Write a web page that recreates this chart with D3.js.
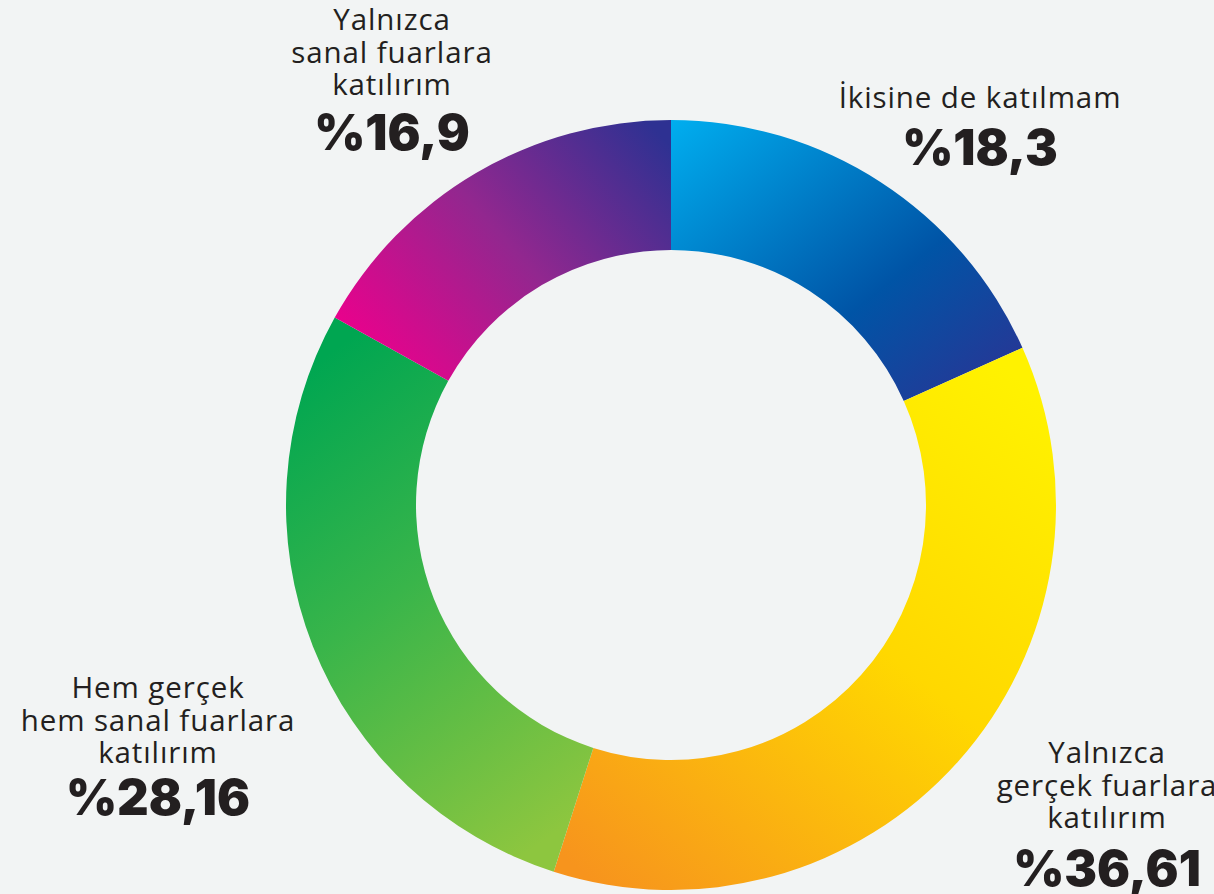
<!DOCTYPE html>
<html>
<head>
<meta charset="utf-8">
<script src="https://cdn.jsdelivr.net/npm/d3@7"></script>
<style>
  html, body { margin: 0; padding: 0; background: #f2f4f4; }
  svg { display: block; }
</style>
</head>
<body>
<script>
// data
var labels = ["İkisine de katılmam", "Yalnızca gerçek fuarlara katılırım", "Hem gerçek hem sanal fuarlara katılırım", "Yalnızca sanal fuarlara katılırım"];
var values = [18.3, 36.61, 28.16, 16.9];
var valueText = ["%18,3", "%36,61", "%28,16", "%16,9"];
var labelLines = [
  ["İkisine de katılmam"],
  ["Yalnızca", "gerçek fuarlara", "katılırım"],
  ["Hem gerçek", "hem sanal fuarlara", "katılırım"],
  ["Yalnızca", "sanal fuarlara", "katılırım"]
];

var w = 1214, h = 894;
var cx = 671, cy = 505;
var outerR = 385, innerR = 255;

// gradient per slice: direction + stops
var grads = [
  { x1: 0, y1: 0, x2: 1, y2: 1, stops: [[0, "#00aeef"], [0.6, "#0054a6"], [1, "#2e3192"]] },
  { x1: 0.85, y1: 0, x2: 0.1, y2: 1, stops: [[0, "#fff200"], [0.45, "#ffd800"], [1, "#f7941d"]] },
  { x1: 0.3, y1: 0, x2: 0.7, y2: 1, stops: [[0, "#00a651"], [0.45, "#39b54a"], [1, "#8dc63f"]] },
  { x1: 0, y1: 0.8, x2: 1, y2: 0.1, stops: [[0, "#ec008c"], [0.5, "#92278f"], [1, "#2e3192"]] }
];

var svg = d3.select("body")
            .append("svg")
            .attr("width", w)
            .attr("height", h);

var defs = svg.append("defs");
grads.forEach(function(g, i){
    var lg = defs.append("linearGradient")
        .attr("id", "g" + i)
        .attr("x1", g.x1).attr("y1", g.y1)
        .attr("x2", g.x2).attr("y2", g.y2);
    g.stops.forEach(function(s){
        lg.append("stop").attr("offset", s[0]).attr("stop-color", s[1]);
    });
});

var pie = d3.pie().sort(null).value(function(d){ return d; });
var arc = d3.arc().innerRadius(innerR).outerRadius(outerR);

svg.append("g")
   .attr("transform", "translate(" + cx + "," + cy + ")")
   .selectAll("path")
   .data(pie(values))
   .enter()
   .append("path")
   .attr("d", arc)
   .attr("fill", function(d, i){ return "url(#g" + i + ")"; });

// label anchor positions (centre x, first baseline y, percent baseline y)
var labelPos = [
  { x: 980, y: 108, py: 165 },
  { x: 1107, y: 763, py: 886 },
  { x: 158, y: 698, py: 815 },
  { x: 392, y: 30, py: 150 }
];

var lab = svg.selectAll("g.lab")
    .data(labelLines)
    .enter()
    .append("g")
    .attr("class", "lab");

lab.each(function(lines, i){
    var g = d3.select(this);
    var p = labelPos[i];
    g.selectAll("text.t")
     .data(lines)
     .enter()
     .append("text")
     .attr("class", "t")
     .attr("x", p.x)
     .attr("y", function(d, j){ return p.y + j * 32.5; })
     .attr("text-anchor", "middle")
     .attr("font-family", "'Open Sans', sans-serif")
     .attr("font-size", 29.5)
     .attr("letter-spacing", 0.9)
     .attr("fill", "#231f20")
     .text(function(d){ return d; });
    g.append("text")
     .attr("x", p.x)
     .attr("y", p.py)
     .attr("text-anchor", "middle")
     .attr("font-family", "Inter, sans-serif")
     .attr("font-weight", 900)
     .attr("font-size", 49)
     .attr("fill", "#231f20")
     .text(valueText[i]);
});
</script>
</body>
</html>
